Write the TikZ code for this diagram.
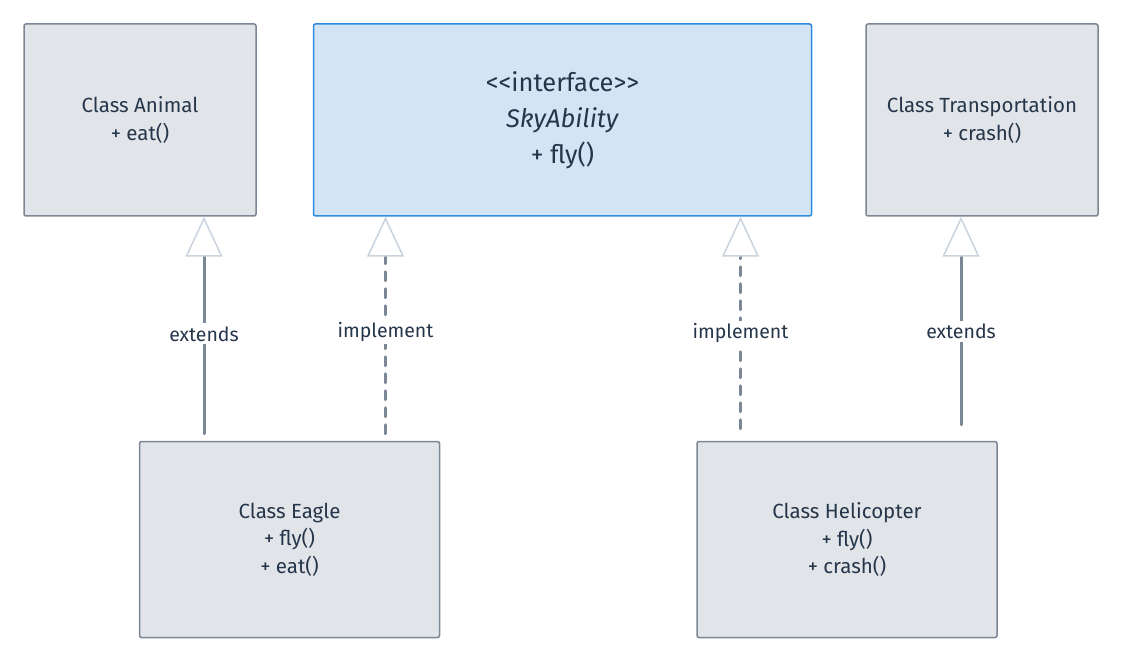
\documentclass[tikz,border=0pt]{standalone}
\usepackage{fontspec}
\setmainfont{Fira Sans}
\usepackage{tikz}
\usetikzlibrary{arrows.meta,positioning,calc}
\definecolor{umlgray}{HTML}{E1E5E9}
\definecolor{umlgrayline}{HTML}{7B8794}
\definecolor{umlblue}{HTML}{D3E5F5}
\definecolor{umlblueline}{HTML}{2F8BE0}
\definecolor{umltext}{HTML}{26364A}
\definecolor{umltip}{HTML}{C9D3DE}
\tikzset{
  uml/class/.style={draw=umlgrayline, fill=umlgray, line width=1.5pt, rounded corners=2pt, align=center, text=umltext, font=\fontsize{20.5}{27.5}\selectfont, minimum width=232pt, minimum height=192pt, inner sep=0pt},
  uml/interface/.style={uml/class, draw=umlblueline, fill=umlblue, minimum width=498pt, font=\fontsize{25.5}{36}\selectfont},
  uml/sub/.style={uml/class, minimum width=300pt, minimum height=196pt},
  uml/gen/.style={line width=3pt, draw=umlgrayline, line cap=round, -{Triangle[length=40pt, width=37pt, fill=white, color=umltip, line width=1.5pt]}},
  uml/real/.style={uml/gen, dash pattern=on 9pt off 8pt},
  uml/label/.style={fill=white, text=umltext, font=\fontsize{19.5}{20}\selectfont, inner sep=3pt}
}

\begin{document}
\begin{tikzpicture}[x=1pt, y=1pt]
  \useasboundingbox (0,0) rectangle (1121,-660);
  \node[uml/class] (animal) at (140,-120) {Class Animal\\+ eat()};
  \node[uml/interface, right=56pt of animal] (sky) {{<}{<}interface{>}{>}\\\textit{SkyAbility}\\+ fly()};
  \node[uml/class, right=53pt of sky] (transport) {Class Transportation\\+ crash()};
  \node[uml/sub, below=224pt of animal, xshift=149.5pt] (eagle) {Class Eagle\\+ fly()\\+ eat()};
  \node[uml/sub, right=256pt of eagle] (heli) {Class Helicopter\\+ fly()\\+ crash()};
  \coordinate (animalfoot) at ([xshift=64pt]animal.south);
  \coordinate (skyfootl) at ([xshift=-177pt]sky.south);
  \coordinate (skyfootr) at ([xshift=178pt]sky.south);
  \coordinate (transportfoot) at ([xshift=-21pt]transport.south);
  \draw[uml/gen] ([yshift=7pt]eagle.north -| animalfoot) -- node[uml/label, pos=0.46] {extends} (animalfoot);
  \draw[uml/real] ([yshift=7pt]eagle.north -| skyfootl) -- node[uml/label, pos=0.47] {implement} (skyfootl);
  \draw[uml/real] ([yshift=12pt]heli.north -| skyfootr) -- node[uml/label, pos=0.45] {implement} (skyfootr);
  \draw[uml/gen] ([yshift=16pt]heli.north -| transportfoot) -- node[uml/label, pos=0.45] {extends} (transportfoot);
\end{tikzpicture}
\end{document}
